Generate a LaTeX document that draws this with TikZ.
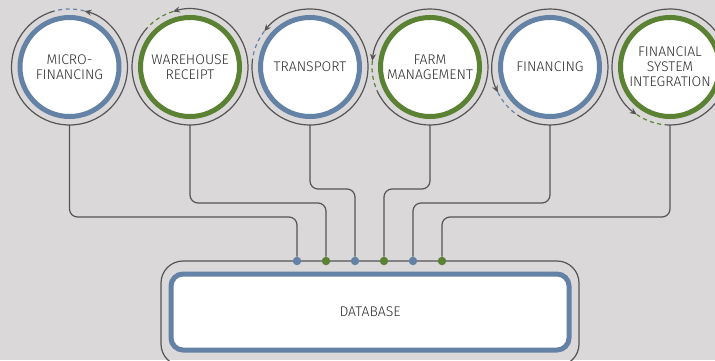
\documentclass[tikz,border=0pt]{standalone}
\usepackage{fontspec}
\setmainfont{Fira Sans Light}
\usetikzlibrary{arrows.meta}
\definecolor{bg}{HTML}{DAD8D9}
\definecolor{ringblue}{HTML}{6482A5}
\definecolor{ringgreen}{HTML}{5A8232}
\definecolor{linegray}{HTML}{555555}
\definecolor{textgray}{HTML}{2E2E2E}
\tikzset{
  module/.style={circle,draw=#1,line width=5pt,fill=white,minimum size=99pt,inner sep=0pt,
    align=center,font=\fontsize{14}{15}\selectfont,text=textgray},
  thinline/.style={draw=linegray,line width=1.2pt},
  link/.style={draw=linegray,line width=1.2pt,rounded corners=8pt},
  port/.style={circle,fill=#1,minimum size=8.5pt,inner sep=0pt},
}
\begin{document}
\begin{tikzpicture}[x=1pt,y=1pt]
  \useasboundingbox[fill=bg](0,0)rectangle(715,360);
  % modules
  \node[module=ringblue](micro) at (69.5,293) {MICRO-\\FINANCING};
  \node[module=ringgreen](warehouse) at (190,293) {WAREHOUSE\\RECEIPT};
  \node[module=ringblue](transport) at (310,293) {TRANSPORT};
  \node[module=ringgreen](farm) at (430,293) {FARM\\MANAGEMENT};
  \node[module=ringblue](financing) at (550,293) {FINANCING};
  \node[module=ringgreen](fsi) at (670,293) {FINANCIAL\\SYSTEM\\INTEGRATION};
  % outer rings with arrow and dashed gap
  \foreach \n/\a/\c in {micro/75/ringblue,warehouse/107/ringgreen,transport/142/ringblue,
      farm/174/ringgreen,financing/206/ringblue,fsi/235/ringgreen}{
    \pgfmathsetmacro\b{\a+30}
    \pgfmathsetmacro\e{\a+360}
    \draw[thinline,-{Stealth[length=7pt,width=6pt]}] (\n.center) ++(\b:58)
      arc[start angle=\b,end angle=\e,radius=58];
    \draw[\c,line width=1.2pt,dash pattern=on 4pt off 3.5pt] (\n.center) ++(\a:58)
      arc[start angle=\a,end angle=\b,radius=58];
  }
  % database
  \draw[thinline,rounded corners=22pt](161,-6)rectangle(579,99);
  \node[draw=ringblue,line width=5pt,fill=white,rounded corners=12pt,minimum width=398pt,
    minimum height=76pt,font=\fontsize{14}{15}\selectfont,text=textgray](db) at (370,48) {DATABASE};
  % ports
  \node[port=ringblue](p1) at (297,99) {};
  \node[port=ringgreen](p2) at (326,99) {};
  \node[port=ringblue](p3) at (355,99) {};
  \node[port=ringgreen](p4) at (384,99) {};
  \node[port=ringblue](p5) at (413,99) {};
  \node[port=ringgreen](p6) at (442,99) {};
  % connectors
  \coordinate (b1) at (69.5,235);
  \coordinate (b2) at (190,235);
  \coordinate (b3) at (310,235);
  \coordinate (b4) at (430,235);
  \coordinate (b5) at (550,235);
  \coordinate (b6) at (670,235);
  \draw[link](b1)|-([yshift=44pt]p1.center)--(p1);
  \draw[link](b2)|-([yshift=58pt]p2.center)--(p2);
  \draw[link](b3)|-([yshift=72pt]p3.center)--(p3);
  \draw[link](b4)|-([yshift=72pt]p4.center)--(p4);
  \draw[link](b5)|-([yshift=58pt]p5.center)--(p5);
  \draw[link](b6)|-([yshift=44pt]p6.center)--(p6);
\end{tikzpicture}
\end{document}
